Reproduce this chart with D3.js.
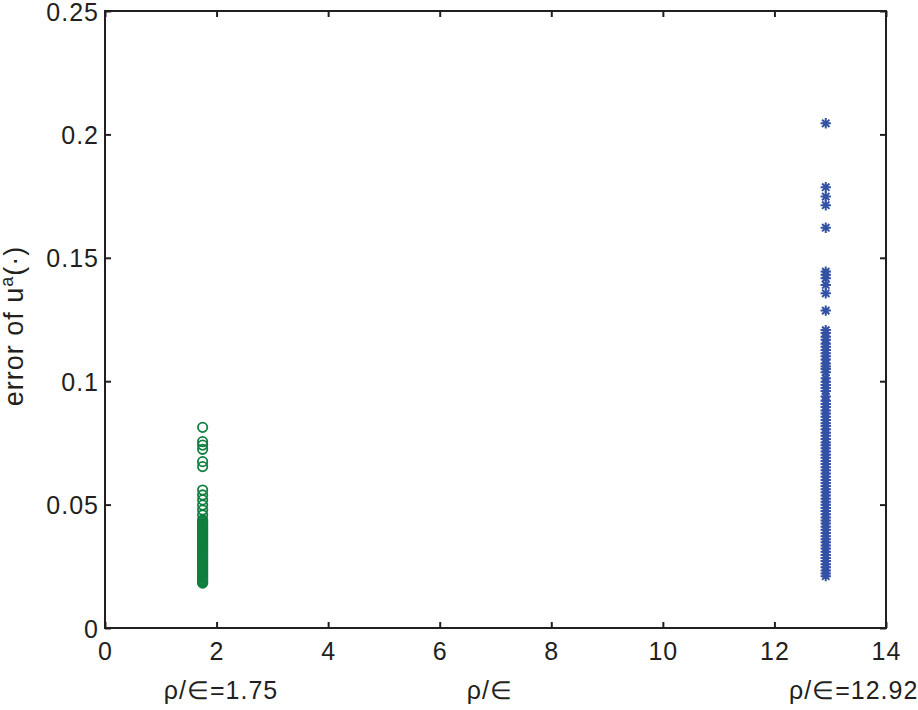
<!DOCTYPE html>
<html><head><meta charset="utf-8">
<script src="https://cdn.jsdelivr.net/npm/d3@7"></script>
<style>
body{margin:0;background:#fff;}
text{font-family:"Liberation Sans",Arial,Helvetica,sans-serif;fill:#231f20;}
</style></head>
<body><svg id="c" width="918" height="710"></svg>
<script>
const xTicks = [0,2,4,6,8,10,12,14];
const yTicks = [0,0.05,0.1,0.15,0.2,0.25];
const yTickLabels = ["0","0.05","0.1","0.15","0.2","0.25"];
const greenX = 1.75;
const blueX = 12.92;
const greenValues = [0.0813,0.0755,0.0741,0.0724,0.0674,0.0654,0.0559,0.0539,0.0519,0.0498,0.0478,0.0458,0.0438,0.0433,0.0428,0.0423,0.0418,0.0413,0.0409,0.0404,0.0400,0.0395,0.0390,0.0386,0.0381,0.0377,0.0372,0.0367,0.0362,0.0358,0.0353,0.0349,0.0344,0.0339,0.0335,0.0331,0.0326,0.0321,0.0316,0.0312,0.0307,0.0303,0.0298,0.0293,0.0289,0.0285,0.0280,0.0275,0.0270,0.0266,0.0261,0.0257,0.0252,0.0248,0.0243,0.0238,0.0234,0.0229,0.0224,0.0220,0.0215,0.0211,0.0206,0.0202,0.0197,0.0193,0.0189,0.0185,0.0182];
const blueValues = [0.2045,0.1786,0.1748,0.1713,0.1622,0.1444,0.1431,0.1417,0.1390,0.1356,0.1286,0.1207,0.1195,0.1180,0.1168,0.1152,0.1140,0.1126,0.1113,0.1101,0.1088,0.1072,0.1060,0.1049,0.1036,0.1012,0.0998,0.0985,0.0972,0.0960,0.0938,0.0921,0.0908,0.0895,0.0881,0.0869,0.0856,0.0843,0.0830,0.0818,0.0805,0.0791,0.0779,0.0766,0.0752,0.0740,0.0728,0.0715,0.0702,0.0690,0.0677,0.0664,0.0651,0.0639,0.0626,0.0613,0.0600,0.0588,0.0575,0.0562,0.0550,0.0537,0.0524,0.0512,0.0499,0.0486,0.0474,0.0461,0.0448,0.0436,0.0423,0.0410,0.0398,0.0385,0.0372,0.0360,0.0347,0.0334,0.0322,0.0309,0.0296,0.0284,0.0271,0.0258,0.0246,0.0233,0.0221,0.0210];
// label anchors in data units of x
const bottomLabels = [{x:2.08,t:"ρ/∈=1.75"},{x:6.9,t:"ρ/∈"},{x:13.42,t:"ρ/∈=12.92"}];

const L=105,R=886,T=11,B=628;
const svg=d3.select("#c");
const x=d3.scaleLinear().domain([0,14]).range([L,R]);
const y=d3.scaleLinear().domain([0,0.25]).range([B,T]);
const green="#0f7f3f", blue="#3452a4", ink="#231f20";

svg.append("rect").attr("x",L).attr("y",T).attr("width",R-L).attr("height",B-T)
  .attr("fill","none").attr("stroke",ink).attr("stroke-width",2);

const fs=25;
const ax=svg.append("g").attr("transform",`translate(0,${B})`)
  .call(d3.axisBottom(x).tickValues(xTicks).tickSizeInner(-6).tickSizeOuter(0).tickPadding(14));
const ay=svg.append("g").attr("transform",`translate(${L},0)`)
  .call(d3.axisLeft(y).tickValues(yTicks).tickFormat((d,i)=>yTickLabels[i]).tickSizeInner(-6).tickSizeOuter(0).tickPadding(6));
const at=svg.append("g").attr("transform",`translate(0,${T})`)
  .call(d3.axisTop(x).tickValues(xTicks).tickSizeInner(-6).tickSizeOuter(0).tickFormat(""));
const ar=svg.append("g").attr("transform",`translate(${R},0)`)
  .call(d3.axisRight(y).tickValues(yTicks).tickSizeInner(-6).tickSizeOuter(0).tickFormat(""));
[ax,ay,at,ar].forEach(g=>{
  g.select(".domain").remove();
  g.selectAll(".tick line").attr("stroke",ink).attr("stroke-width",2);
  g.selectAll("text").attr("font-size",fs).attr("fill",ink).style("font-family","'Liberation Sans',Arial,sans-serif").attr("letter-spacing","1");
});
ay.selectAll("text").attr("dy","0.36em");

svg.append("g").selectAll("circle").data(greenValues).join("circle")
  .attr("cx",x(greenX)).attr("cy",d=>y(d)).attr("r",4.7)
  .attr("fill","none").attr("stroke",green).attr("stroke-width",1.8);

const starType={draw(ctx){const r=5.2;
    ctx.moveTo(-r,0);ctx.lineTo(r,0);ctx.moveTo(0,-r);ctx.lineTo(0,r);
    const k=r*0.707;ctx.moveTo(-k,-k);ctx.lineTo(k,k);ctx.moveTo(-k,k);ctx.lineTo(k,-k);}};
svg.append("g").selectAll("path").data(blueValues).join("path")
  .attr("transform",d=>`translate(${x(blueX)},${y(d)})`)
  .attr("d",d3.symbol().type(starType).size(1)())
  .attr("fill","none").attr("stroke",blue).attr("stroke-width",2);

svg.append("g").selectAll("text").data(bottomLabels).join("text")
  .attr("x",d=>x(d.x)).attr("y",699).attr("text-anchor","middle").attr("font-size",fs).attr("letter-spacing","1")
  .text(d=>d.t);

const yl=svg.append("text").attr("transform","translate(23,326) rotate(-90)").attr("text-anchor","middle").attr("font-size",27).attr("letter-spacing","1");
yl.append("tspan").text("error of u");
yl.append("tspan").attr("font-size",18).attr("dy",-10).text("a");
yl.append("tspan").attr("dy",10).text("(·)");
</script></body></html>
